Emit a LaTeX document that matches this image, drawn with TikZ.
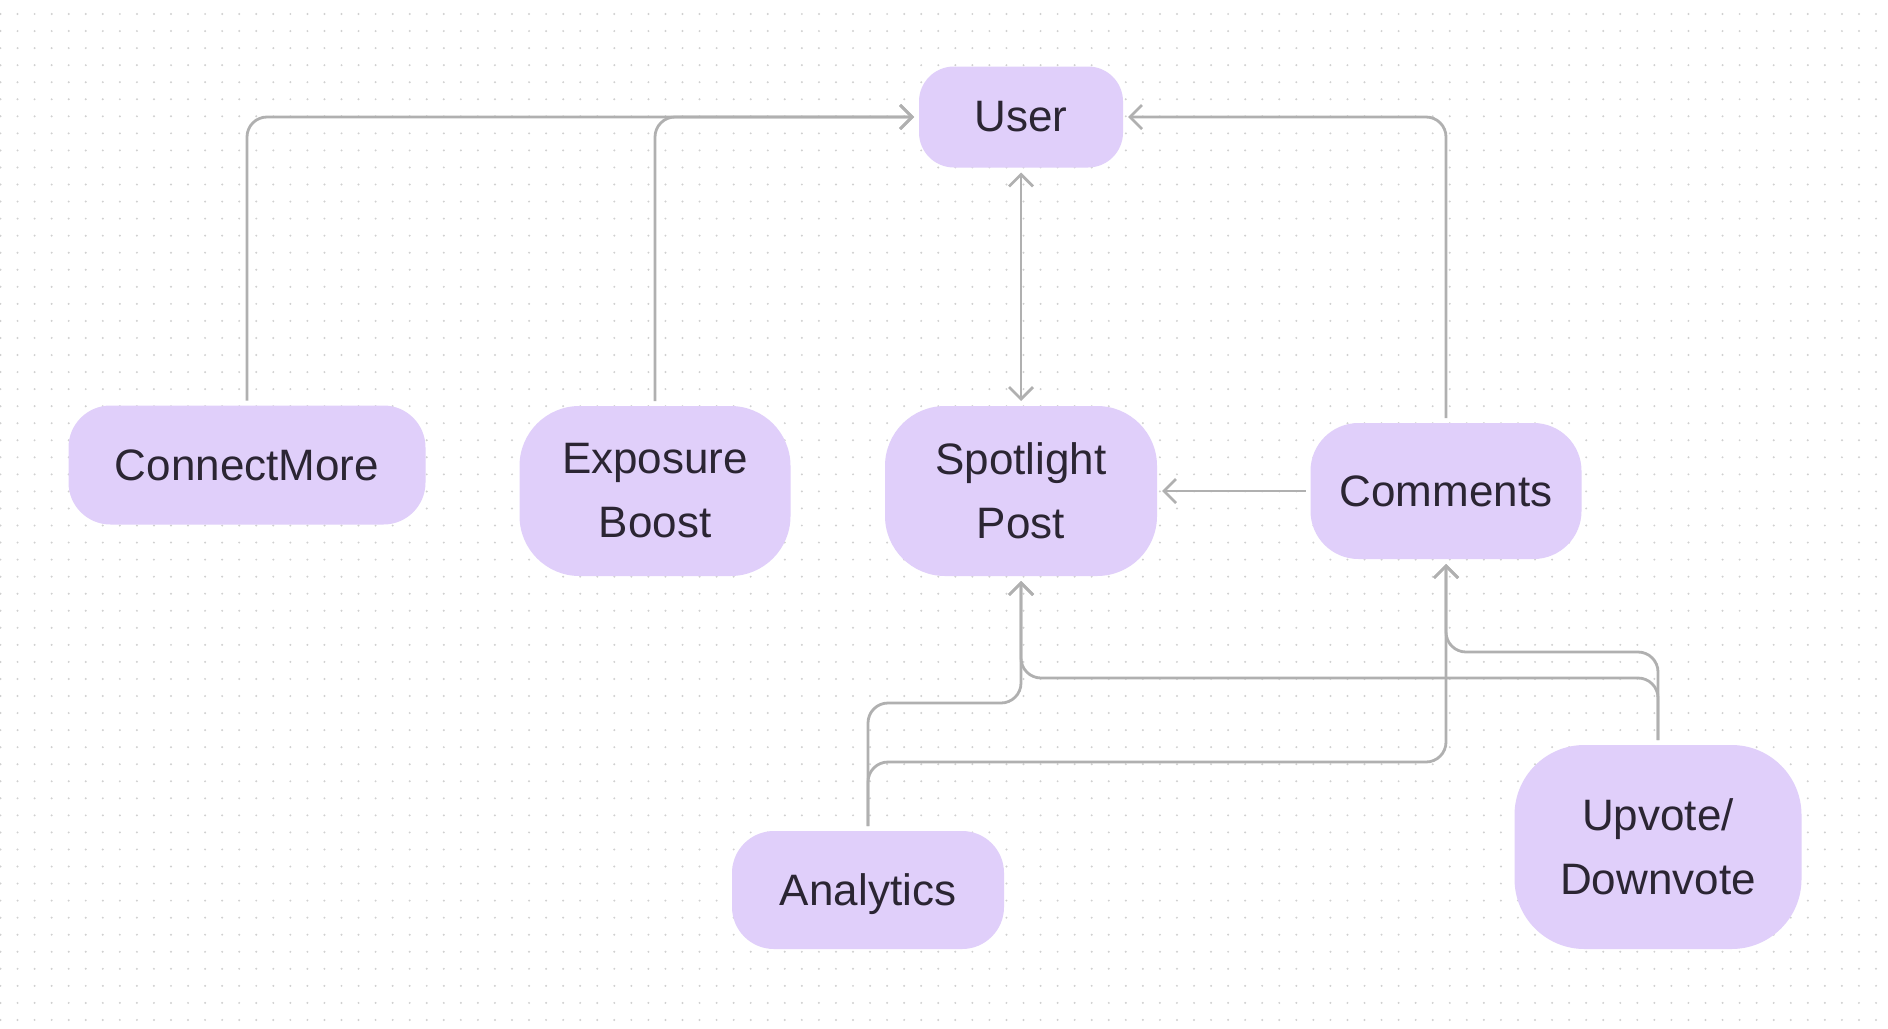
\documentclass[tikz,border=0pt]{standalone}
\usepackage{fontspec}
\setmainfont{Liberation Sans}
\usetikzlibrary{arrows.meta}
\definecolor{boxfill}{HTML}{E0CFFA}
\definecolor{txtc}{HTML}{2B2533}
\definecolor{linec}{HTML}{B0B0B0}
\definecolor{dotc}{HTML}{D0D0D0}
\tikzset{
  box/.style={draw=none, fill=boxfill, text=txtc, inner sep=0pt, outer sep=2.5pt,
    font=\fontsize{22pt}{32pt}\selectfont},
  twoline/.style={box, align=center},
  conn/.style={draw=linec, line width=1.4pt, rounded corners=10pt},
  arr/.style={conn, -{Straight Barb[length=6pt,width=12pt]}},
  dblarr/.style={conn, {Straight Barb[length=6pt,width=12pt]}-{Straight Barb[length=6pt,width=12pt]}}
}
\begin{document}
\begin{tikzpicture}[x=0.5pt,y=-0.5pt]
\useasboundingbox (0,0) rectangle (1888,1028);
\fill[white] (0,0) rectangle (1888,1028);
\foreach \j in {0,...,59} {
  \fill[dotc] \foreach \i in {0,...,110} { (0.5+\i*17.05, 14+\j*17.05) circle (1.1) };
}

\node[box, minimum width=102pt, minimum height=50.5pt, rounded corners=17.5pt] (user) at (1021,117) {User};
\node[box, minimum width=178.5pt, minimum height=59.5pt, rounded corners=21pt] (cmore) at (247,465) {ConnectMore};
\node[twoline, minimum width=135.5pt, minimum height=85pt, rounded corners=30pt] (expo) at (655,491) {Exposure\\Boost};
\node[twoline, minimum width=136pt, minimum height=85pt, rounded corners=30pt] (spot) at (1021,491) {Spotlight\\Post};
\node[box, minimum width=135.5pt, minimum height=68pt, rounded corners=24pt] (com) at (1446,491) {Comments};
\node[box, minimum width=136pt, minimum height=59pt, rounded corners=21pt, text depth=0pt] (ana) at (868,890) {Analytics};
\node[twoline, minimum width=143.5pt, minimum height=102pt, rounded corners=35pt] (up) at (1658,847) {Upvote/\\Downvote};

\coordinate (railA) at (0,652);
\coordinate (railB) at (0,678);
\coordinate (railC) at (0,703);
\coordinate (railD) at (0,762);

\draw[arr] (cmore.north) |- (user.west);
\draw[arr] (expo.north) |- (user.west);
\draw[arr] (com.north) |- (user.east);
\draw[dblarr] (user.south) -- (spot.north);
\draw[arr] (com.west) -- (spot.east);
\draw[arr] (up.north) -- (up.north |- railA) -| (com.south);
\draw[arr] (up.north) -- (up.north |- railB) -| (spot.south);
\draw[arr] (ana.north) -- (ana.north |- railC) -| (spot.south);
\draw[arr] (ana.north) -- (ana.north |- railD) -| (com.south);
\end{tikzpicture}
\end{document}
